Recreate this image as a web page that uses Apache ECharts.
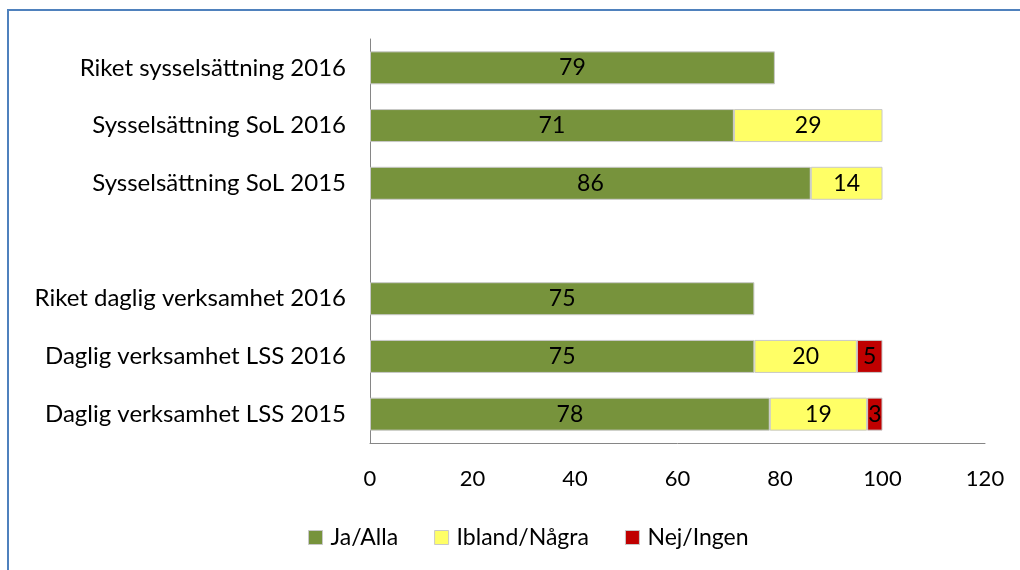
<!DOCTYPE html>
<html>
<head>
<meta charset="utf-8">
<script src="https://cdn.jsdelivr.net/npm/echarts@6/dist/echarts.min.js"></script>
<style>
  html, body { margin: 0; padding: 0; background: #fff; }
  #chart { width: 1020px; height: 570px; }
</style>
</head>
<body>
<div id="chart"></div>
<script>
// categories listed bottom -> top (category axis starts at the bottom)
var categories = [
  'Daglig verksamhet LSS 2015',
  'Daglig verksamhet LSS 2016',
  'Riket daglig verksamhet 2016',
  '',
  'Sysselsättning SoL 2015',
  'Sysselsättning SoL 2016',
  'Riket sysselsättning 2016'
];
var jaAlla = [78, 75, 75, null, 86, 71, 79];
var iblandNagra = [19, 20, null, null, 14, 29, null];
var nejIngen = [3, 5, null, null, null, null, null];
var xTicks = [0, 120, 20]; // min, max, interval

var font = 'Lato';
var chart = echarts.init(document.getElementById('chart'));

function barSeries(name, data, color) {
  return {
    name: name,
    type: 'bar',
    stack: 'total',
    data: data,
    barWidth: 33,
    itemStyle: { color: color, borderColor: '#c8c8c8', borderWidth: 1 },
    label: {
      show: true,
      position: 'inside',
      color: '#000',
      fontFamily: font,
      fontSize: 23
    }
  };
}

chart.setOption({
  animation: false,
  backgroundColor: '#fff',
  graphic: [{
    type: 'rect',
    shape: { x: 8, y: 10, width: 1100, height: 600 },
    style: { fill: 'none', stroke: '#4F81BD', lineWidth: 2 },
    silent: true
  }],
  grid: { left: 370, right: 35, top: 39, bottom: 127, containLabel: false },
  xAxis: {
    type: 'value',
    min: xTicks[0],
    max: xTicks[1],
    interval: xTicks[2],
    axisLine: { show: true, lineStyle: { color: '#868686', width: 1 } },
    axisTick: { show: false },
    splitLine: { show: false },
    axisLabel: { color: '#000', fontFamily: font, fontSize: 22, margin: 25 }
  },
  yAxis: {
    type: 'category',
    data: categories,
    axisLine: { show: true, lineStyle: { color: '#868686', width: 1 } },
    axisTick: { show: false },
    axisLabel: { color: '#000', fontFamily: font, fontSize: 24, margin: 24 }
  },
  legend: {
    bottom: 16,
    left: 303,
    itemWidth: 14,
    itemHeight: 14,
    itemGap: 36,
    icon: 'rect',
    textStyle: { color: '#000', fontFamily: font, fontSize: 23, padding: [0, 0, 0, 3] },
    itemStyle: { borderColor: '#c8c8c8', borderWidth: 1 }
  },
  series: [
    barSeries('Ja/Alla', jaAlla, '#77933C'),
    barSeries('Ibland/Några', iblandNagra, '#FFFF66'),
    barSeries('Nej/Ingen', nejIngen, '#C00000')
  ]
});
</script>
</body>
</html>
